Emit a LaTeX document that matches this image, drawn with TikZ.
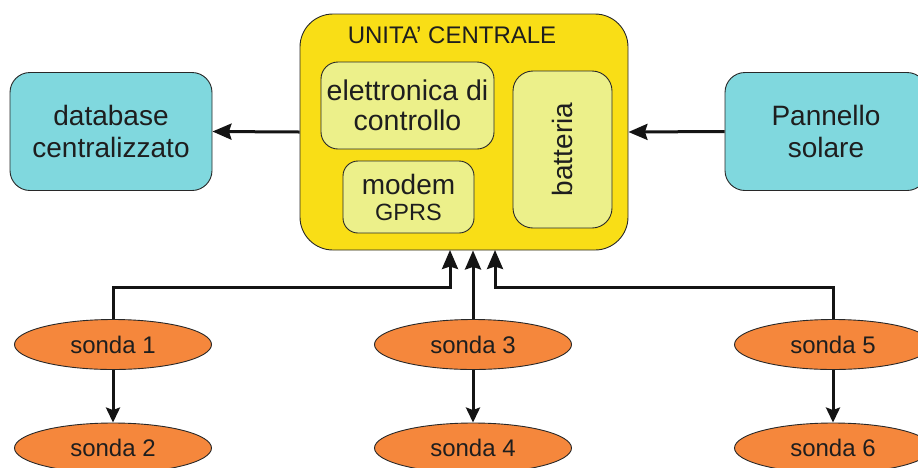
\documentclass[tikz,border=0pt]{standalone}
\usepackage{fontspec}
\setmainfont{Liberation Sans}
\usetikzlibrary{shapes.geometric,arrows.meta}
\definecolor{cyanbox}{RGB}{128,216,222}
\definecolor{yellowbox}{RGB}{249,222,22}
\definecolor{lightbox}{RGB}{236,240,138}
\definecolor{orangebox}{RGB}{245,135,60}
\definecolor{edge}{RGB}{40,40,40}
\definecolor{txt}{RGB}{30,30,30}
\definecolor{wire}{RGB}{20,20,20}
\begin{document}
\begin{tikzpicture}[x=1pt,y=-1pt,
  box/.style={draw=edge, line width=0.9pt, rectangle, inner sep=0pt, text=txt, align=center},
  bigfont/.style={font=\fontsize{28}{32}\selectfont},
  sonda/.style={draw=edge, line width=0.9pt, ellipse, fill=orangebox, minimum width=197pt,
    minimum height=50pt, inner sep=0pt, text=txt, font=\fontsize{24}{28}\selectfont},
  conn/.style={line width=3pt, draw=wire},
  bigtip/.style={-{Stealth[length=19pt,width=16pt,inset=2.5pt]}},
  smalltip/.style={-{Stealth[length=15pt,width=14pt,inset=2.5pt]}}
]
\useasboundingbox (0,0) rectangle (918,467);

% central unit
\node[box, fill=yellowbox, minimum width=328pt, minimum height=236pt, rounded corners=33pt] (cu) at (464,132) {};
\node[text=txt, font=\fontsize{24}{28}\selectfont, anchor=base, inner sep=0pt] (cutitle) at (452,43) {UNITA' CENTRALE};
\node[box, fill=lightbox, minimum width=173pt, minimum height=87pt, rounded corners=17pt,
  font=\fontsize{28.5}{30}\selectfont] (ctrl) at (407.5,105.5) {elettronica di\\controllo};
\node[box, fill=lightbox, minimum width=131pt, minimum height=72pt, rounded corners=15pt,
  font=\fontsize{28}{26}\selectfont] (modem) at (408.5,197) {modem\\{\fontsize{23.5}{26}\selectfont GPRS}};
\node[box, fill=lightbox, minimum width=157pt, minimum height=99pt, rounded corners=20pt,
  rotate=90, bigfont] (batt) at (562.5,149.5) {batteria};

% side boxes
\node[box, fill=cyanbox, minimum width=202pt, minimum height=118pt, rounded corners=20pt,
  bigfont] (db) at (111,131.5) {database\\centralizzato};
\node[box, fill=cyanbox, minimum width=202pt, minimum height=118pt, rounded corners=20pt,
  bigfont] (pan) at (826,131.5) {Pannello\\solare};

% probes
\node[sonda] (s1) at (113,344.5) {sonda 1};
\node[sonda] (s2) at (113,448) {sonda 2};
\node[sonda] (s3) at (473,344.5) {sonda 3};
\node[sonda] (s4) at (473,448) {sonda 4};
\node[sonda] (s5) at (833,344.5) {sonda 5};
\node[sonda] (s6) at (833,448) {sonda 6};

% connectors
\draw[conn,bigtip] (cu.west) -- (db.east);
\draw[conn,bigtip] (pan.west) -- (cu.east);

\coordinate (in1) at (450,250);
\coordinate (in5) at (495,250);
\coordinate (k1) at (450,287);
\coordinate (k5) at (495,287);
\draw[conn,bigtip] (s1.north) |- (k1) -- (in1);
\draw[conn,bigtip] (s3.north) -- (s3.north |- cu.south);
\draw[conn,bigtip] (s5.north) |- (k5) -- (in5);

\draw[conn,smalltip] (s1.south) -- (s2.north);
\draw[conn,smalltip] (s3.south) -- (s4.north);
\draw[conn,smalltip] (s5.south) -- (s6.north);
\end{tikzpicture}
\end{document}
